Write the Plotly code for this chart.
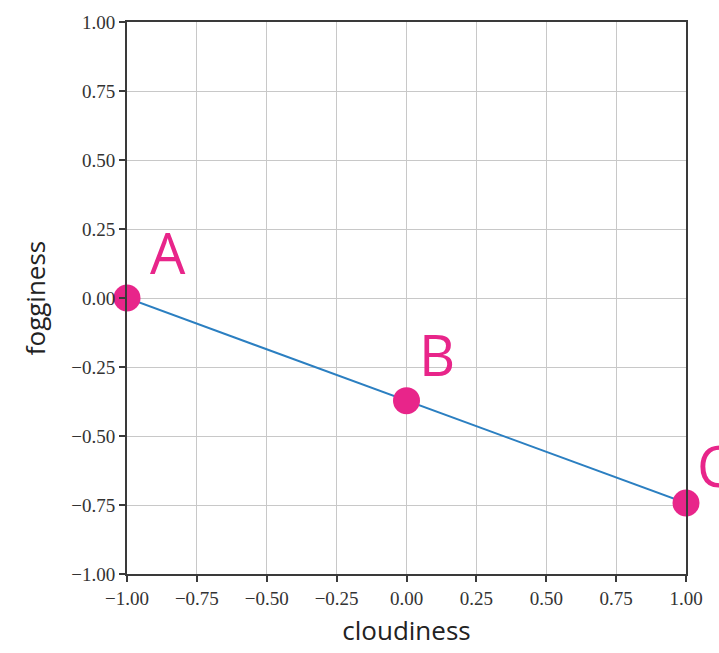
import plotly.graph_objects as go

# Three named states on the cloudiness / fogginess plane
labels = ["A", "B", "C"]
cloudiness = [-1.0, 0.0, 1.0]
fogginess = [0.0, -0.372, -0.743]

# Letter placement: anchored at the point, pushed by these pixel offsets
label_xshift = [41, 30, 28]
label_yshift = [46, 47, 38]

tick_vals = [-1.0, -0.75, -0.5, -0.25, 0.0, 0.25, 0.5, 0.75, 1.0]
tick_text = ["\u22121.00", "\u22120.75", "\u22120.50", "\u22120.25",
             "0.00", "0.25", "0.50", "0.75", "1.00"]

pink = "#E8258A"
blue = "#2B7FC1"

fig = go.Figure()
fig.add_trace(go.Scatter(
    x=cloudiness, y=fogginess, mode="lines",
    line=dict(color=blue, width=2), cliponaxis=False, hoverinfo="skip",
))
fig.add_trace(go.Scatter(
    x=cloudiness, y=fogginess, mode="markers",
    marker=dict(color=pink, size=27, line=dict(width=0)),
    cliponaxis=False,
))

for lab, x, y, sx, sy in zip(labels, cloudiness, fogginess, label_xshift, label_yshift):
    fig.add_annotation(
        x=x, y=y, xshift=sx, yshift=sy, text=lab, showarrow=False,
        xanchor="center", yanchor="middle",
        font=dict(family="Open Sans", size=56, color=pink),
    )

axis_common = dict(
    range=[-1, 1], tickvals=tick_vals, ticktext=tick_text,
    showgrid=True, gridcolor="#c8c8c8", gridwidth=1,
    showline=True, linecolor="#3a3a3a", linewidth=2, mirror=True,
    ticks="outside", ticklen=6, tickwidth=1.5, tickcolor="#3a3a3a",
    tickfont=dict(family="Liberation Serif", size=19, color="#333"),
    zeroline=False,
)

fig.update_xaxes(
    **axis_common,
    title=dict(text="cloudiness", standoff=14,
               font=dict(family="Open Sans", size=26, color="#222")),
)
fig.update_yaxes(
    **axis_common,
    title=dict(text="fogginess", standoff=18,
               font=dict(family="Open Sans", size=26, color="#222")),
)

fig.update_layout(
    width=719, height=653,
    margin=dict(l=127, r=33, t=18, b=75),
    paper_bgcolor="white", plot_bgcolor="white",
    showlegend=False,
)

fig.write_html("out.html")
